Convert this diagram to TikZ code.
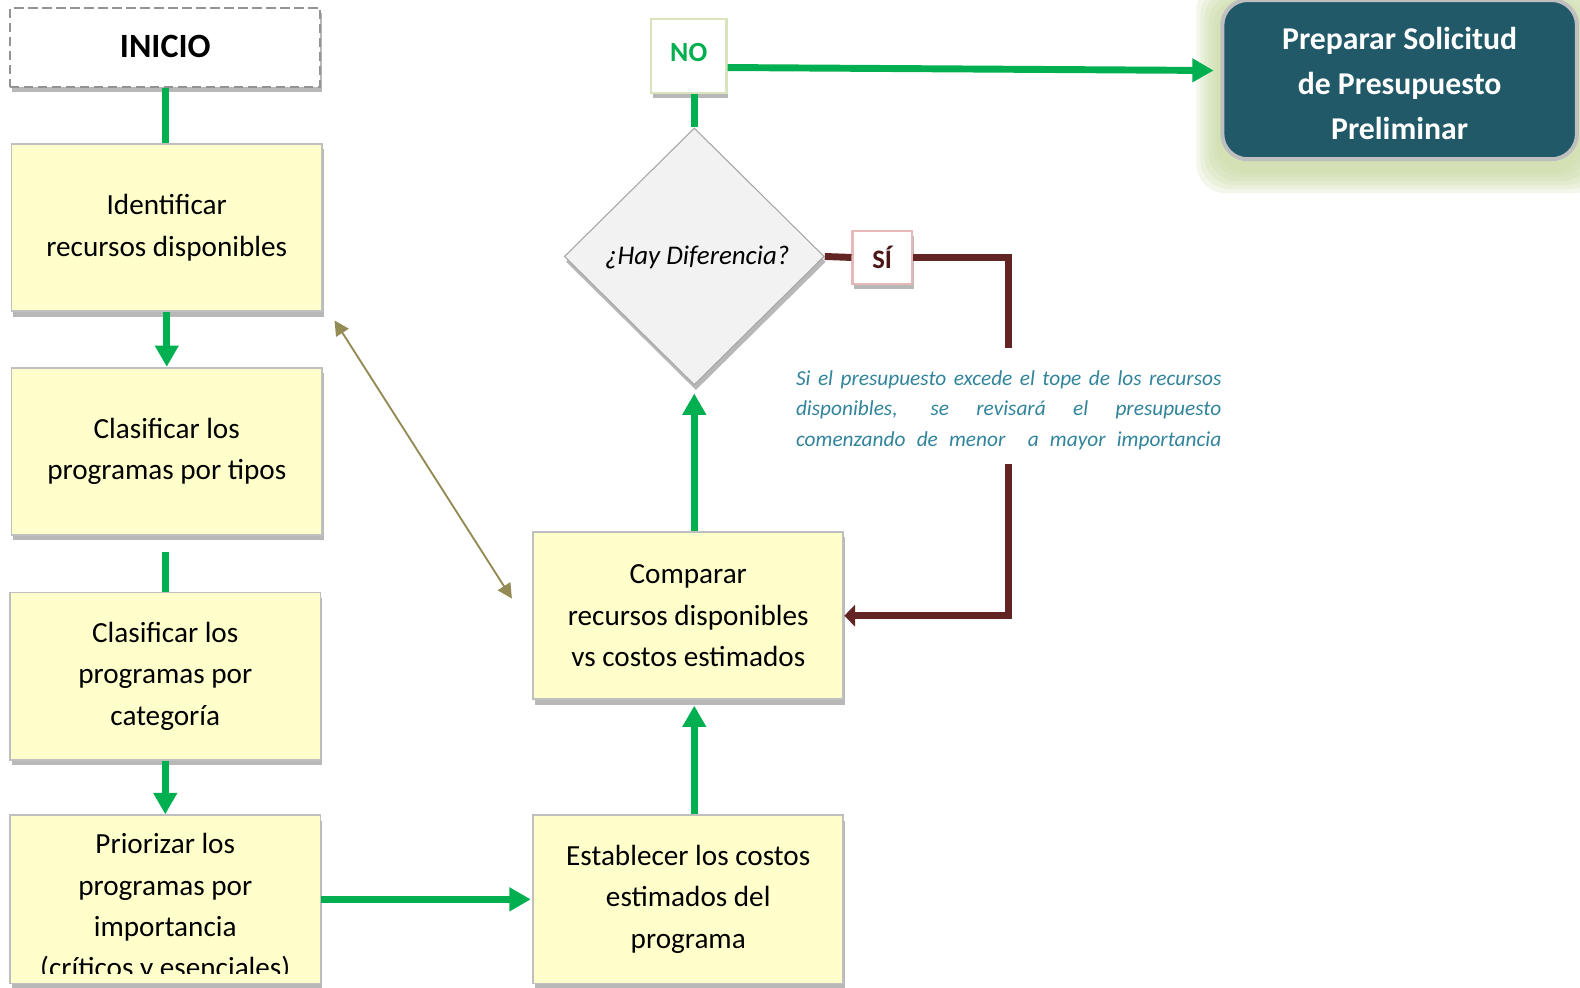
\documentclass[tikz,border=0pt]{standalone}
\usepackage{fontspec}
\setmainfont{Carlito}
\usetikzlibrary{arrows.meta,shapes.geometric,shadows,calc}
\definecolor{grn}{HTML}{00B050}
\definecolor{byel}{HTML}{FFFFCC}
\definecolor{bord}{HTML}{BFBFBF}
\definecolor{brn}{HTML}{632523}
\definecolor{oli}{HTML}{948A54}
\definecolor{notecol}{HTML}{31849B}
\definecolor{prepf}{HTML}{215968}
\definecolor{glowc}{HTML}{C3D69B}
\definecolor{nobord}{HTML}{D7E4BD}
\definecolor{sibord}{HTML}{E6B9B8}
\definecolor{sitext}{HTML}{4A1616}
\pgfdeclarelayer{bg}
\pgfsetlayers{bg,main}
\tikzset{
  shad/.style={drop shadow={shadow xshift=1.2pt,shadow yshift=-4pt,fill=black,opacity=0.28}},
  procbox/.style={draw=bord,line width=1.4pt,fill=byel,minimum width=233pt,minimum height=125.5pt,
     align=center,inner sep=0pt,font=\fontsize{21.9}{31}\selectfont,shad},
  gline/.style={draw=grn,line width=5.2pt},
  garrow/.style={gline,-{Triangle[length=16pt,width=17pt]}},
  bline/.style={draw=brn,line width=5.2pt},
  oarrow/.style={draw=oli,line width=1.4pt,{Triangle[length=11pt,width=11pt]}-{Triangle[length=11pt,width=11pt]}},
  txt/.style={inner sep=0pt,align=center}
}
\begin{document}
\begin{tikzpicture}[x=0.7558pt,y=-0.7558pt]
\useasboundingbox (0,0) rectangle (1568,980);

% --- nodes ---
\node[draw=gray!85,dash pattern=on 7pt off 3.5pt,line width=1.5pt,fill=white,minimum width=232.8pt,minimum height=59pt,
      font=\fontsize{25.5}{30}\selectfont\bfseries,shad] (inicio) at (164,47) {\raisebox{1.5pt}{INICIO}};
\node[procbox] (b1) at (165.5,226) {Identificar\\recursos disponibles};
\node[procbox] (b2) at (165.5,448) {Clasificar los\\programas por tipos};
\node[procbox,minimum width=232.8pt] (b3) at (164,671) {Clasificar los\\programas por\\categoría};
\node[procbox,minimum width=232.8pt,minimum height=126.2pt] (b4) at (164,892.5) {};
\begin{scope}
  \clip (8,809) rectangle (320,966);
  \node[txt,font=\fontsize{21.9}{31}\selectfont] (b4t) at (164,901) {Priorizar los\\programas por\\importancia\\(críticos y esenciales)};
\end{scope}
\node[procbox,minimum width=232.8pt] (b5) at (683,611) {Comparar\\recursos disponibles\\vs costos estimados};
\node[procbox,minimum width=232.8pt,minimum height=126.2pt] (b6) at (683,892.5) {Establecer los costos\\estimados del\\programa};

\node[diamond,draw=gray!70,line width=0.8pt,fill=gray!10,minimum width=195pt,minimum height=192.7pt,inner sep=0pt,shad] (dia) at (689,254.5) {};
\node[txt,font=\fontsize{20.2}{24}\selectfont\itshape] (diat) at (692,255.5) {¿Hay Diferencia?};

\node[draw=nobord,line width=1.6pt,fill=white,minimum width=56.7pt,minimum height=55.2pt,inner sep=0pt,
      text=grn,font=\fontsize{20.8}{24}\selectfont\bfseries,shad] (no) at (683.5,55.5) {\raisebox{5pt}{NO}};
\node[draw=sibord,line width=1.6pt,fill=white,minimum width=44.6pt,minimum height=40pt,inner sep=0pt,
      text=sitext,font=\fontsize{20}{24}\selectfont\bfseries,shad] (si) at (875.5,255.5) {\raisebox{-0.8pt}{SÍ}};

\node[draw=bord,line width=3pt,fill=prepf,rounded corners=19pt,minimum width=266pt,minimum height=119.4pt,inner sep=0pt] (prep) at (1389,79) {};
\node[txt,text=white,font=\fontsize{23.8}{33.6}\selectfont\bfseries] (prept) at (1389,83)
      {Preparar Solicitud\\de Presupuesto\\Preliminar};
\begin{pgfonlayer}{bg}
  \foreach \r in {18,15,12,9,6,3}{
    \fill[glowc,opacity=0.2,rounded corners=22pt]
      ([xshift=-\r pt,yshift=-\r pt-6pt]prep.south west) rectangle ([xshift=\r pt,yshift=\r pt-6pt]prep.north east);
  }
\end{pgfonlayer}

% --- connectors ---
\draw[gline] (inicio.south) -- (b1.north -| inicio.south);
\draw[garrow] (b1.south) -- (b2.north);
\draw[gline,shorten <=12pt] (b2.south -| b3.north) -- (b3.north);
\draw[garrow] (b3.south) -- (b4.north);
\draw[garrow,shorten >=1pt] (b4.east |- b6.west) -- (b6.west);
\draw[garrow,shorten >=4pt] (b6.north -| dia.south) -- (b5.south -| dia.south);
\draw[garrow,shorten >=6pt] (b5.north -| dia.south) -- (dia.south);
\draw[gline] (dia.north) -- (no.south -| dia.north);
\draw[garrow,shorten >=5pt] ([yshift=-8.7pt]no.east) -- ([yshift=6.8pt]prep.west);

\coordinate (corner) at (1001,257);
\draw[bline] (dia.east) -- (si.west);
\draw[bline,-{Triangle[length=8pt,width=16pt]}] (si.east) -- (si.east -| corner) -- (corner |- b5.east) -- (b5.east);

\coordinate (d1) at (332,318);
\coordinate (d2) at (508,594);
\draw[oarrow] (d1) -- (d2);

% --- note ---
\node[fill=white,minimum width=325pt,minimum height=87pt,inner sep=0pt] (note) at (1001,402.5) {};
\begin{scope}
  \clip (780,355) rectangle (1225,446);
  \node[txt,text=notecol,font=\fontsize{16}{22.7}\selectfont\itshape] (notet) at (1001,407)
   {\makebox[319pt][s]{Si el presupuesto excede el tope de los recursos}\\
    \makebox[319pt][s]{disponibles, se revisará el presupuesto}\\
    \makebox[319pt][s]{comenzando de menor\ \ a mayor importancia}};
\end{scope}
\end{tikzpicture}
\end{document}
